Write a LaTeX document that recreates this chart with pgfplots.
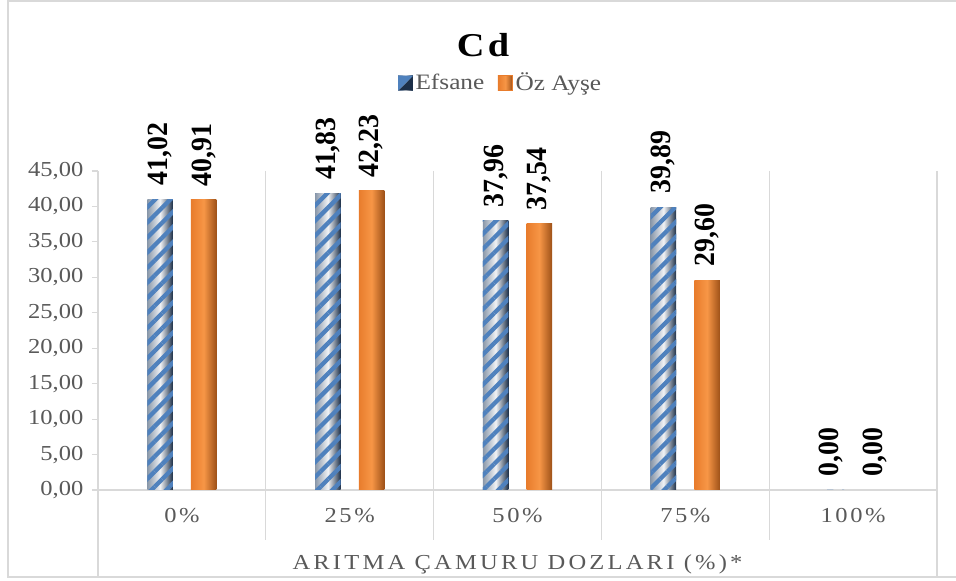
\documentclass[border=0pt]{standalone}
\usepackage{fontspec}
\setmainfont{Liberation Serif}[FakeStretch=1.15]
\newfontfamily\spacedfont{Liberation Serif}[FakeStretch=1.15,LetterSpace=12]
\newfontfamily\titlespaced{Liberation Serif}[FakeStretch=1.15,LetterSpace=15]
\newfontfamily\valuefont{Liberation Serif}[FakeStretch=0.95]
\usepackage{pgfplots}
\pgfplotsset{compat=1.18}
\usetikzlibrary{patterns.meta}

\definecolor{gridgrey}{HTML}{D9D9D9}
\definecolor{labelgrey}{HTML}{595959}
\definecolor{stripeblue}{HTML}{4F81BD}
\definecolor{steeldark}{HTML}{1C2F48}
\definecolor{steellight}{HTML}{8A98AA}
\definecolor{steelmid}{HTML}{F0F2F5}
\definecolor{orangemain}{HTML}{F79646}
\definecolor{orangeleft}{HTML}{E87C2C}
\definecolor{orangedark}{HTML}{9E5118}

\pgfplotsset{
  efsanebar/.style={bar shift=-0.13, draw=none,
    preaction={left color=steellight, right color=steeldark, middle color=steelmid},
    pattern={Lines[angle=45,distance=8pt,line width=3.2pt]}, pattern color=stripeblue},
  ozbar/.style={bar shift=0.13, draw=none,
    left color=orangeleft, right color=orangedark, middle color=orangemain},
}

\begin{document}
\begin{tikzpicture}
\useasboundingbox (-73.5pt,-68.25pt) rectangle (643.5pt,367.5pt);
% chart frame
\draw[gridgrey, line width=1.5pt] (-67.5pt,-65.25pt) rectangle (645pt,366.75pt);
\begin{axis}[
  scale only axis,
  width=629.25pt, height=239.25pt,
  xmin=-0.5, xmax=4.5,
  ymin=0, ymax=45,
  clip=false,
  axis x line*=bottom, axis y line*=left,
  axis line style={gridgrey, line width=1pt},
  xtick={0,1,2,3,4},
  xticklabels={0\%,25\%,50\%,75\%,100\%},
  x tick style={draw=none},
  xticklabel style={font=\spacedfont\fontsize{16}{19}\selectfont, text=labelgrey, yshift=-6pt},
  ytick={0,5,...,45},
  tick align=outside,
  major tick length=4.5pt,
  y tick style={gridgrey, line width=0.8pt},
  yticklabel style={font=\fontsize{16}{18}\selectfont, text=labelgrey, xshift=-3pt},
  /pgf/number format/.cd, use comma, fixed, fixed zerofill, precision=2, assume math mode=true,
  /pgfplots/.cd,
  xlabel={\titlespaced ARITMA ÇAMURU DOZLARI (\%)*},
  every axis x label/.style={at={(axis description cs:0.5,0)}, anchor=center, yshift=-56pt,
    font=\fontsize{16}{19}\selectfont, text=labelgrey},
  ybar, bar width=0.152,
  nodes near coords,
  every node near coord/.append style={font=\valuefont\bfseries\fontsize{22}{24}\selectfont,
    text=black, rotate=90, anchor=west, inner xsep=10pt},
  legend columns=2,
  legend style={draw=none, fill=none, at={(axis description cs:0.4803,1.2759)}, anchor=center,
    font=\fontsize{16.5}{19}\selectfont, text=labelgrey,
    /tikz/every even column/.append style={column sep=8pt}},
]
% category separators and frame lines
\draw[gridgrey, line width=1pt] (axis cs:0.5,45) -- ++(0pt,-276.75pt);
\draw[gridgrey, line width=1pt] (axis cs:1.5,45) -- ++(0pt,-276.75pt);
\draw[gridgrey, line width=1pt] (axis cs:2.5,45) -- ++(0pt,-276.75pt);
\draw[gridgrey, line width=1pt] (axis cs:3.5,45) -- ++(0pt,-276.75pt);
\draw[gridgrey, line width=1pt] (axis cs:4.5,45) -- ++(0pt,-304.5pt);
\draw[gridgrey, line width=1pt] (axis cs:-0.5,0) -- ++(0pt,-65.25pt);

% 0 % dose
\addplot[efsanebar,
  legend image code/.code={
    \fill[steellight] (0pt,-5.5pt) rectangle (11pt,5.5pt);
    \fill[steeldark] (0pt,-5.5pt) -- (11pt,5.5pt) -- (11pt,-5.5pt) -- cycle;
    \fill[stripeblue] (0pt,-5.5pt) -- (0pt,5.5pt) -- (11pt,5.5pt) -- cycle;}
] coordinates {(0,41.02)};
\addlegendentry{Efsane}
\addplot[ozbar,
  legend image code/.code={
    \fill[orangemain, draw=orangeleft] (0pt,-5.5pt) rectangle (11pt,5.5pt);}
] coordinates {(0,40.91)};
\addlegendentry{Öz Ayşe}
% 25 % dose
\addplot[efsanebar, forget plot] coordinates {(1,41.83)};
\addplot[ozbar, forget plot] coordinates {(1,42.23)};
% 50 % dose
\addplot[efsanebar, forget plot] coordinates {(2,37.96)};
\addplot[ozbar, forget plot] coordinates {(2,37.54)};
% 75 % dose
\addplot[efsanebar, forget plot] coordinates {(3,39.89)};
\addplot[ozbar, forget plot] coordinates {(3,29.60)};
% 100 % dose
\addplot[efsanebar, forget plot] coordinates {(4,0.00)};
\addplot[ozbar, forget plot] coordinates {(4,0.00)};

\node[font=\bfseries\fontsize{25}{30}\selectfont, text=black] at (axis description cs:0.4589,1.395) {C\kern2.5pt d};
\end{axis}
\end{tikzpicture}
\end{document}
